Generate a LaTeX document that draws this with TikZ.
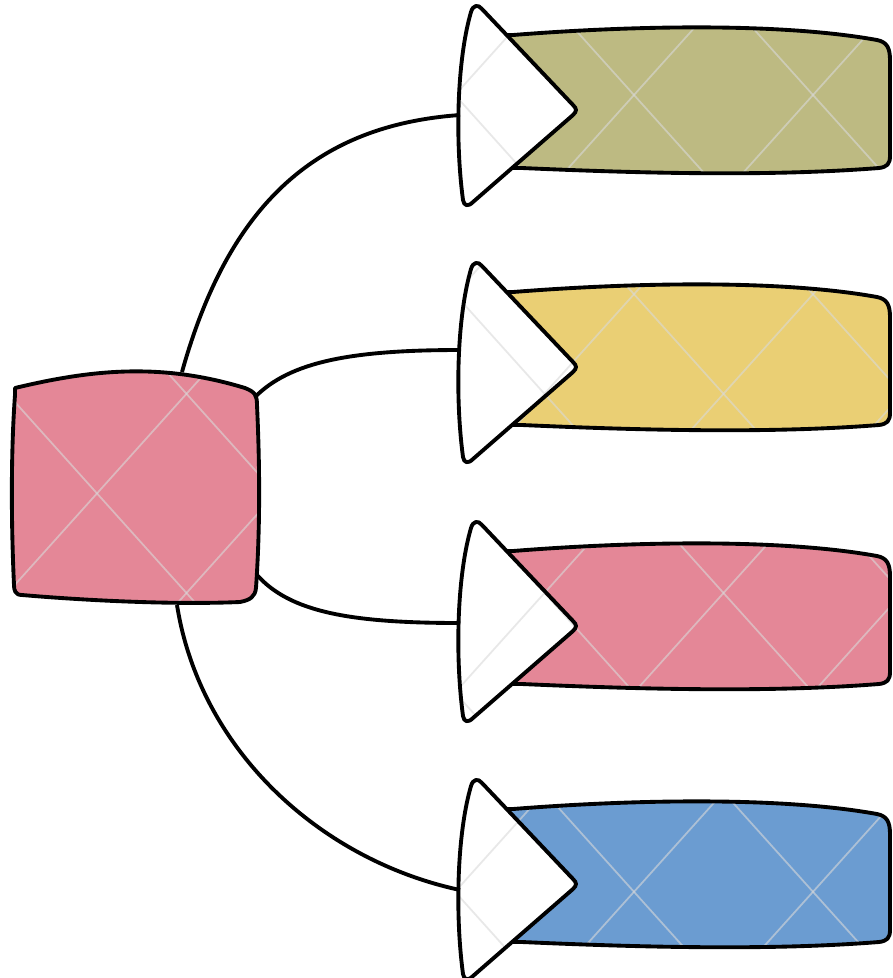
\documentclass[tikz,border=0pt]{standalone}
\usetikzlibrary{calc}

\definecolor{olivebox}{RGB}{189,186,130}
\definecolor{yellowbox}{RGB}{234,207,116}
\definecolor{pinkbox}{RGB}{228,135,151}
\definecolor{bluebox}{RGB}{107,156,209}

\tikzset{
	outline/.style={black, line width=1.1pt, line join=round},
	link/.style={black, line width=1.1pt},
	watermark/.style={white!70!gray, line width=0.5pt, opacity=0.6},
}

% faint diagonal lattice laid over every shape
\newcommand{\lattice}{%
	\foreach \k in {-8,...,6} {
		\draw[watermark] (6.34+1.79*\k-8.95, 9.01) -- (6.34+1.79*\k+8.95, -10.91);
		\draw[watermark] (6.34+1.79*\k+8.95, 9.01) -- (6.34+1.79*\k-8.95, -10.91);
	}%
}
\newcommand{\hubpath}{(0.15,-3.88) .. controls (0.9,-3.70) and (1.6,-3.62) .. (2.45,-3.88)
	.. controls (2.55,-3.92) and (2.57,-3.95) .. (2.57,-4.05)
	.. controls (2.60,-4.7) and (2.60,-5.3) .. (2.56,-5.88)
	.. controls (2.55,-5.97) and (2.50,-6.0) .. (2.40,-6.02)
	.. controls (1.7,-6.05) and (0.8,-6.0) .. (0.22,-5.95)
	.. controls (0.15,-5.95) and (0.14,-5.90) .. (0.14,-5.85)
	.. controls (0.11,-5.2) and (0.11,-4.5) .. (0.15,-3.95) -- cycle}
\newcommand{\bandpath}{(-0.95,0.75) -- (-0.64,0.75)
	.. controls (0.5,0.84) and (2.0,0.88) .. (3.0,0.70)
	.. controls (3.10,0.68) and (3.13,0.62) .. (3.13,0.50) -- (3.13,-0.46)
	.. controls (3.13,-0.54) and (3.10,-0.57) .. (3.02,-0.58)
	.. controls (2.0,-0.66) and (0.8,-0.64) .. (-0.55,-0.58) -- (-0.95,-0.58) -- cycle}
\newcommand{\arrowpath}{(-1.14,-0.90) .. controls (-1.22,-0.3) and (-1.20,0.5) .. (-1.06,0.98)
	.. controls (-1.04,1.05) and (-0.99,1.06) .. (-0.95,1.01)
	-- (-0.04,0.05) .. controls (0,0.01) and (0,-0.01) .. (-0.04,-0.05)
	-- (-1.04,-0.92) .. controls (-1.09,-0.97) and (-1.13,-0.96) .. cycle}

\begin{document}
\begin{tikzpicture}
	\useasboundingbox (0,0) rectangle (8.93,-9.78);

	% Hub anchors where the links leave
	\coordinate (s1) at (1.82,-3.72);
	\coordinate (s2) at (2.55,-3.97);
	\coordinate (s3) at (2.57,-5.75);
	\coordinate (s4) at (1.77,-6.05);

	% Four rows: arrow head + coloured band
	\foreach \n/\y/\col/\dy in {1/-1.10/olivebox/-0.05, 2/-3.67/yellowbox/0.17, 3/-6.26/pinkbox/0.03, 4/-8.84/bluebox/-0.06} {
		\begin{scope}[shift={(5.77,\y)}]
			\coordinate (t\n) at (-1.17,\dy);

			\fill[\col] \bandpath;
			\begin{scope}
				\clip \bandpath;
				\begin{scope}[shift={(-5.77,-\y)}] \lattice \end{scope}
			\end{scope}
			\draw[outline] \bandpath;

			\fill[white] \arrowpath;
			\begin{scope}
				\clip \arrowpath;
				\begin{scope}[shift={(-5.77,-\y)}] \lattice \end{scope}
			\end{scope}
			\draw[outline] \arrowpath;
		\end{scope}
	}

	% Links from the hub to each arrow
	\draw[link] (s1) .. controls +(0.48,1.72) and +(-1.4,-0.10) .. (t1);
	\draw[link] (s2) .. controls +(0.35,0.35) and +(-1.1,0) .. (t2);
	\draw[link] (s3) .. controls +(0.33,-0.37) and +(-1.1,0) .. (t3);
	\draw[link] (s4) .. controls +(0.23,-1.45) and +(-1.4,0.30) .. (t4);

	% Hub square
	\fill[pinkbox] \hubpath;
	\begin{scope}
		\clip \hubpath;
		\lattice
	\end{scope}
	\draw[outline] \hubpath;
\end{tikzpicture}
\end{document}
